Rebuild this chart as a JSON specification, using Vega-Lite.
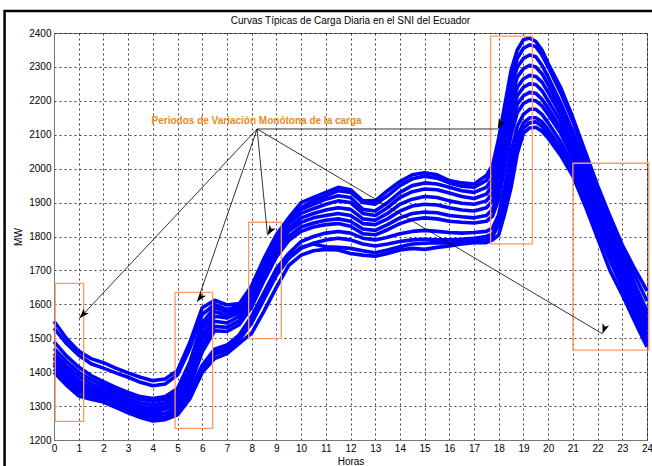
{
  "$schema": "https://vega.github.io/schema/vega-lite/v6.json",
  "width": 593,
  "height": 407,
  "autosize": {"type": "none"},
  "padding": {"left": 54, "top": 33, "right": 5, "bottom": 26},
  "background": "white",
  "title": {"text": "Curvas Típicas de Carga Diaria en el SNI del Ecuador", "fontSize": 10, "fontWeight": "normal", "font": "Liberation Sans", "color": "black", "frame": "group", "baseline": "bottom", "offset": 0, "dy": 26},
  "config": {
    "view": {"stroke": "#777777", "strokeWidth": 1},
    "axis": {"labelFont": "Liberation Sans", "labelFontSize": 10, "labelColor": "black", "titleFont": "Liberation Sans", "titleFontSize": 10, "titleFontWeight": "normal", "titleColor": "black", "domainColor": "#777777", "ticks": false, "grid": true, "gridColor": "#000000", "gridOpacity": 0.75, "gridDash": [2, 3], "gridWidth": 1, "labelOverlap": false, "format": "d"}
  },
  "datasets": {
    "curves": [
      {"h":0,"c1":1550,"c2":1530,"c3":1490,"c4":1470,"c5":1455,"c6":1440,"c7":1430,"c8":1420,"c9":1445,"c10":1425,"c11":1410,"c12":1400},
      {"h":0.5,"c1":1500,"c2":1485,"c3":1448,"c4":1432,"c5":1418,"c6":1405,"c7":1395,"c8":1384,"c9":1405,"c10":1388,"c11":1372,"c12":1362},
      {"h":1,"c1":1462,"c2":1450,"c3":1415,"c4":1400,"c5":1388,"c6":1375,"c7":1364,"c8":1352,"c9":1372,"c10":1355,"c11":1342,"c12":1330},
      {"h":1.5,"c1":1440,"c2":1425,"c3":1390,"c4":1378,"c5":1366,"c6":1355,"c7":1344,"c8":1334,"c9":1350,"c10":1336,"c11":1328,"c12":1320},
      {"h":2,"c1":1428,"c2":1412,"c3":1372,"c4":1362,"c5":1352,"c6":1342,"c7":1332,"c8":1322,"c9":1338,"c10":1325,"c11":1318,"c12":1312},
      {"h":2.5,"c1":1412,"c2":1398,"c3":1355,"c4":1346,"c5":1336,"c6":1326,"c7":1316,"c8":1306,"c9":1322,"c10":1310,"c11":1302,"c12":1296},
      {"h":3,"c1":1398,"c2":1385,"c3":1340,"c4":1332,"c5":1322,"c6":1312,"c7":1302,"c8":1292,"c9":1308,"c10":1296,"c11":1288,"c12":1280},
      {"h":3.5,"c1":1385,"c2":1370,"c3":1328,"c4":1320,"c5":1310,"c6":1300,"c7":1290,"c8":1280,"c9":1298,"c10":1284,"c11":1274,"c12":1266},
      {"h":4,"c1":1375,"c2":1360,"c3":1322,"c4":1314,"c5":1304,"c6":1294,"c7":1284,"c8":1272,"c9":1292,"c10":1278,"c11":1266,"c12":1256},
      {"h":4.5,"c1":1380,"c2":1365,"c3":1328,"c4":1320,"c5":1310,"c6":1300,"c7":1290,"c8":1278,"c9":1294,"c10":1278,"c11":1268,"c12":1260},
      {"h":5,"c1":1405,"c2":1392,"c3":1352,"c4":1342,"c5":1330,"c6":1318,"c7":1308,"c8":1298,"c9":1304,"c10":1288,"c11":1280,"c12":1274},
      {"h":5.5,"c1":1488,"c2":1470,"c3":1430,"c4":1415,"c5":1400,"c6":1385,"c7":1370,"c8":1360,"c9":1345,"c10":1330,"c11":1335,"c12":1322},
      {"h":6,"c1":1590,"c2":1570,"c3":1545,"c4":1530,"c5":1510,"c6":1495,"c7":1475,"c8":1460,"c9":1420,"c10":1400,"c11":1415,"c12":1400},
      {"h":6.5,"c1":1612,"c2":1600,"c3":1590,"c4":1578,"c5":1565,"c6":1550,"c7":1535,"c8":1522,"c9":1468,"c10":1452,"c11":1460,"c12":1440},
      {"h":7,"c1":1598,"c2":1585,"c3":1578,"c4":1568,"c5":1560,"c6":1545,"c7":1532,"c8":1520,"c9":1480,"c10":1465,"c11":1470,"c12":1455},
      {"h":7.5,"c1":1602,"c2":1595,"c3":1590,"c4":1582,"c5":1575,"c6":1565,"c7":1552,"c8":1540,"c9":1510,"c10":1495,"c11":1500,"c12":1485},
      {"h":8,"c1":1655,"c2":1645,"c3":1650,"c4":1640,"c5":1630,"c6":1620,"c7":1605,"c8":1592,"c9":1565,"c10":1545,"c11":1550,"c12":1515},
      {"h":8.5,"c1":1735,"c2":1725,"c3":1730,"c4":1720,"c5":1710,"c6":1700,"c7":1685,"c8":1670,"c9":1635,"c10":1615,"c11":1625,"c12":1580},
      {"h":9,"c1":1805,"c2":1795,"c3":1800,"c4":1790,"c5":1780,"c6":1770,"c7":1755,"c8":1740,"c9":1705,"c10":1685,"c11":1695,"c12":1650},
      {"h":9.5,"c1":1855,"c2":1845,"c3":1850,"c4":1838,"c5":1825,"c6":1815,"c7":1800,"c8":1788,"c9":1750,"c10":1735,"c11":1740,"c12":1715},
      {"h":10,"c1":1900,"c2":1885,"c3":1880,"c4":1868,"c5":1855,"c6":1842,"c7":1828,"c8":1815,"c9":1785,"c10":1765,"c11":1768,"c12":1745},
      {"h":10.5,"c1":1915,"c2":1905,"c3":1895,"c4":1882,"c5":1868,"c6":1855,"c7":1840,"c8":1828,"c9":1800,"c10":1780,"c11":1778,"c12":1758},
      {"h":11,"c1":1930,"c2":1920,"c3":1910,"c4":1895,"c5":1878,"c6":1862,"c7":1848,"c8":1835,"c9":1810,"c10":1790,"c11":1770,"c12":1762},
      {"h":11.5,"c1":1945,"c2":1935,"c3":1920,"c4":1905,"c5":1885,"c6":1868,"c7":1852,"c8":1838,"c9":1815,"c10":1795,"c11":1768,"c12":1760},
      {"h":12,"c1":1938,"c2":1930,"c3":1915,"c4":1900,"c5":1880,"c6":1862,"c7":1845,"c8":1830,"c9":1810,"c10":1790,"c11":1765,"c12":1750},
      {"h":12.5,"c1":1905,"c2":1900,"c3":1880,"c4":1868,"c5":1852,"c6":1838,"c7":1822,"c8":1808,"c9":1795,"c10":1778,"c11":1758,"c12":1745},
      {"h":13,"c1":1905,"c2":1895,"c3":1875,"c4":1862,"c5":1848,"c6":1835,"c7":1818,"c8":1805,"c9":1790,"c10":1772,"c11":1752,"c12":1742},
      {"h":13.5,"c1":1935,"c2":1920,"c3":1900,"c4":1885,"c5":1868,"c6":1852,"c7":1835,"c8":1820,"c9":1798,"c10":1778,"c11":1760,"c12":1750},
      {"h":14,"c1":1962,"c2":1950,"c3":1930,"c4":1915,"c5":1895,"c6":1875,"c7":1855,"c8":1838,"c9":1808,"c10":1785,"c11":1770,"c12":1760},
      {"h":14.5,"c1":1982,"c2":1970,"c3":1950,"c4":1932,"c5":1910,"c6":1890,"c7":1868,"c8":1850,"c9":1815,"c10":1790,"c11":1778,"c12":1765},
      {"h":15,"c1":1988,"c2":1978,"c3":1958,"c4":1940,"c5":1918,"c6":1895,"c7":1872,"c8":1855,"c9":1818,"c10":1792,"c11":1780,"c12":1762},
      {"h":15.5,"c1":1982,"c2":1972,"c3":1955,"c4":1938,"c5":1915,"c6":1893,"c7":1870,"c8":1852,"c9":1815,"c10":1790,"c11":1782,"c12":1768},
      {"h":16,"c1":1965,"c2":1958,"c3":1945,"c4":1928,"c5":1905,"c6":1885,"c7":1862,"c8":1845,"c9":1812,"c10":1790,"c11":1780,"c12":1772},
      {"h":16.5,"c1":1958,"c2":1948,"c3":1935,"c4":1918,"c5":1898,"c6":1878,"c7":1858,"c8":1842,"c9":1810,"c10":1792,"c11":1785,"c12":1778},
      {"h":17,"c1":1955,"c2":1945,"c3":1930,"c4":1912,"c5":1895,"c6":1875,"c7":1855,"c8":1840,"c9":1812,"c10":1795,"c11":1788,"c12":1782},
      {"h":17.5,"c1":1980,"c2":1965,"c3":1945,"c4":1925,"c5":1905,"c6":1885,"c7":1862,"c8":1845,"c9":1815,"c10":1800,"c11":1790,"c12":1782},
      {"h":17.75,"c1":2010,"c2":1995,"c3":1970,"c4":1950,"c5":1928,"c6":1905,"c7":1880,"c8":1860,"c9":1825,"c10":1808,"c11":1800,"c12":1790},
      {"h":18,"c1":2090,"c2":2070,"c3":2040,"c4":2010,"c5":1985,"c6":1960,"c7":1935,"c8":1910,"c9":1865,"c10":1845,"c11":1835,"c12":1805},
      {"h":18.25,"c1":2190,"c2":2170,"c3":2140,"c4":2110,"c5":2080,"c6":2055,"c7":2030,"c8":2005,"c9":1950,"c10":1925,"c11":1900,"c12":1870},
      {"h":18.5,"c1":2290,"c2":2265,"c3":2240,"c4":2205,"c5":2175,"c6":2150,"c7":2125,"c8":2100,"c9":2050,"c10":2020,"c11":1985,"c12":1945},
      {"h":18.75,"c1":2350,"c2":2325,"c3":2300,"c4":2270,"c5":2240,"c6":2215,"c7":2190,"c8":2165,"c9":2125,"c10":2095,"c11":2070,"c12":2045},
      {"h":19,"c1":2380,"c2":2355,"c3":2325,"c4":2295,"c5":2265,"c6":2240,"c7":2215,"c8":2192,"c9":2160,"c10":2135,"c11":2120,"c12":2105},
      {"h":19.25,"c1":2385,"c2":2365,"c3":2335,"c4":2305,"c5":2275,"c6":2250,"c7":2225,"c8":2202,"c9":2175,"c10":2150,"c11":2135,"c12":2120},
      {"h":19.5,"c1":2375,"c2":2360,"c3":2330,"c4":2300,"c5":2272,"c6":2248,"c7":2222,"c8":2200,"c9":2175,"c10":2150,"c11":2138,"c12":2122},
      {"h":19.75,"c1":2350,"c2":2335,"c3":2305,"c4":2280,"c5":2255,"c6":2230,"c7":2205,"c8":2185,"c9":2160,"c10":2138,"c11":2125,"c12":2110},
      {"h":20,"c1":2310,"c2":2300,"c3":2270,"c4":2248,"c5":2225,"c6":2200,"c7":2178,"c8":2160,"c9":2135,"c10":2115,"c11":2102,"c12":2090},
      {"h":20.5,"c1":2240,"c2":2225,"c3":2195,"c4":2175,"c5":2160,"c6":2140,"c7":2120,"c8":2105,"c9":2080,"c10":2062,"c11":2050,"c12":2040},
      {"h":21,"c1":2150,"c2":2140,"c3":2110,"c4":2090,"c5":2075,"c6":2060,"c7":2045,"c8":2030,"c9":2010,"c10":1995,"c11":1985,"c12":1978},
      {"h":21.5,"c1":2050,"c2":2040,"c3":2015,"c4":2000,"c5":1985,"c6":1970,"c7":1960,"c8":1948,"c9":1930,"c10":1915,"c11":1905,"c12":1890},
      {"h":22,"c1":1950,"c2":1940,"c3":1920,"c4":1905,"c5":1890,"c6":1880,"c7":1870,"c8":1860,"c9":1845,"c10":1830,"c11":1818,"c12":1795},
      {"h":22.5,"c1":1860,"c2":1850,"c3":1830,"c4":1815,"c5":1800,"c6":1790,"c7":1780,"c8":1770,"c9":1755,"c10":1742,"c11":1730,"c12":1700},
      {"h":23,"c1":1775,"c2":1760,"c3":1745,"c4":1730,"c5":1715,"c6":1705,"c7":1695,"c8":1688,"c9":1672,"c10":1660,"c11":1648,"c12":1628},
      {"h":23.5,"c1":1705,"c2":1685,"c3":1660,"c4":1650,"c5":1635,"c6":1625,"c7":1615,"c8":1605,"c9":1590,"c10":1578,"c11":1565,"c12":1550},
      {"h":24,"c1":1640,"c2":1610,"c3":1580,"c4":1570,"c5":1555,"c6":1545,"c7":1535,"c8":1525,"c9":1510,"c10":1498,"c11":1485,"c12":1474}
    ],
    "rects": [
      {"x": 0.05, "x2": 1.2, "y": 1662, "y2": 1255},
      {"x": 4.9, "x2": 6.42, "y": 1635, "y2": 1234},
      {"x": 7.88, "x2": 9.2, "y": 1842, "y2": 1499},
      {"x": 17.67, "x2": 19.36, "y": 2391, "y2": 1778},
      {"x": 21.0, "x2": 24.07, "y": 2016, "y2": 1465}
    ],
    "arrows": [
      {"a": "1", "x0": 8.22, "y0": 2117, "x1": 1.03, "y1": 1559},
      {"a": "2", "x0": 8.22, "y0": 2117, "x1": 5.8, "y1": 1608},
      {"a": "3", "x0": 8.22, "y0": 2117, "x1": 8.64, "y1": 1804},
      {"a": "4", "x0": 8.22, "y0": 2117, "x1": 17.96, "y1": 2117},
      {"a": "5", "x0": 8.22, "y0": 2117, "x1": 22.2, "y1": 1513}
    ],
    "notes": [
      {"x": 3.95, "y": 2132, "text": "Periodos de Variación Monótona de la carga"}
    ],
    "frame": [
      {"x": -2, "x2": 27, "y": 2465, "y2": 1100}
    ]
  },
  "layer": [
    {
      "data": {"name": "curves"},
      "transform": [{"fold": ["c1","c2","c3","c4","c5","c6","c7","c8","c9","c10","c11","c12"], "as": ["curva", "mw"]}],
      "mark": {"type": "line", "color": "#0000FF", "strokeWidth": 3.6, "strokeJoin": "round"},
      "encoding": {
        "x": {"field": "h", "type": "quantitative", "scale": {"domain": [0, 24], "nice": false, "zero": false},
              "axis": {"title": "Horas", "values": [0,1,2,3,4,5,6,7,8,9,10,11,12,13,14,15,16,17,18,19,20,21,22,23,24], "labelOverlap": false, "labelPadding": 3, "titlePadding": 3, "labelFlush": false, "format": "d"}},
        "y": {"field": "mw", "type": "quantitative", "scale": {"domain": [1200, 2400], "nice": false, "zero": false},
              "axis": {"title": "MW", "values": [1200,1300,1400,1500,1600,1700,1800,1900,2000,2100,2200,2300,2400], "labelOverlap": false, "labelPadding": 3, "titlePadding": 5, "labelFlush": false, "format": "d"}},
        "detail": {"field": "curva", "type": "nominal"}
      }
    },
    {
      "data": {"name": "rects"},
      "mark": {"type": "rect", "fill": null, "stroke": "#FF9966", "strokeWidth": 1.3},
      "encoding": {
        "x": {"field": "x", "type": "quantitative", "axis": {"title": "Horas", "values": [0,1,2,3,4,5,6,7,8,9,10,11,12,13,14,15,16,17,18,19,20,21,22,23,24], "labelOverlap": false, "labelPadding": 3, "titlePadding": 3, "labelFlush": false, "format": "d"}},
        "x2": {"field": "x2"},
        "y": {"field": "y", "type": "quantitative", "axis": {"title": "MW", "values": [1200,1300,1400,1500,1600,1700,1800,1900,2000,2100,2200,2300,2400], "labelOverlap": false, "labelPadding": 3, "titlePadding": 5, "labelFlush": false, "format": "d"}},
        "y2": {"field": "y2"}
      }
    },
    {
      "data": {"name": "arrows"},
      "mark": {"type": "rule", "color": "#000000", "strokeWidth": 0.8},
      "encoding": {
        "x": {"field": "x0", "type": "quantitative", "axis": {"title": "Horas", "values": [0,1,2,3,4,5,6,7,8,9,10,11,12,13,14,15,16,17,18,19,20,21,22,23,24], "labelOverlap": false, "labelPadding": 3, "titlePadding": 3, "labelFlush": false, "format": "d"}},
        "y": {"field": "y0", "type": "quantitative", "axis": {"title": "MW", "values": [1200,1300,1400,1500,1600,1700,1800,1900,2000,2100,2200,2300,2400], "labelOverlap": false, "labelPadding": 3, "titlePadding": 5, "labelFlush": false, "format": "d"}},
        "x2": {"field": "x1"},
        "y2": {"field": "y1"}
      }
    },
    {
      "data": {"name": "arrows"},
      "mark": {"type": "point", "shape": "M0,0L-0.7,2L0,1.5L0.7,2Z", "filled": true, "color": "#000000", "opacity": 1, "size": 100},
      "encoding": {
        "x": {"field": "x1", "type": "quantitative", "axis": {"title": "Horas", "values": [0,1,2,3,4,5,6,7,8,9,10,11,12,13,14,15,16,17,18,19,20,21,22,23,24], "labelOverlap": false, "labelPadding": 3, "titlePadding": 3, "labelFlush": false, "format": "d"}},
        "y": {"field": "y1", "type": "quantitative", "axis": {"title": "MW", "values": [1200,1300,1400,1500,1600,1700,1800,1900,2000,2100,2200,2300,2400], "labelOverlap": false, "labelPadding": 3, "titlePadding": 5, "labelFlush": false, "format": "d"}},
        "angle": {"field": "a", "type": "nominal", "scale": {"domain": ["1","2","3","4","5"], "range": [223.25, 199.2, 174.4, 90, 120.6]}, "legend": null}
      }
    },
    {
      "data": {"name": "notes"},
      "mark": {"type": "text", "align": "left", "baseline": "alphabetic", "font": "Liberation Sans", "fontSize": 10, "fontWeight": "bold", "color": "#E8891C"},
      "encoding": {
        "x": {"field": "x", "type": "quantitative", "axis": {"title": "Horas", "values": [0,1,2,3,4,5,6,7,8,9,10,11,12,13,14,15,16,17,18,19,20,21,22,23,24], "labelOverlap": false, "labelPadding": 3, "titlePadding": 3, "labelFlush": false, "format": "d"}},
        "y": {"field": "y", "type": "quantitative", "axis": {"title": "MW", "values": [1200,1300,1400,1500,1600,1700,1800,1900,2000,2100,2200,2300,2400], "labelOverlap": false, "labelPadding": 3, "titlePadding": 5, "labelFlush": false, "format": "d"}},
        "text": {"field": "text"}
      }
    },
    {
      "data": {"name": "frame"},
      "mark": {"type": "rect", "fill": null, "stroke": "#000000", "strokeWidth": 2.5, "clip": false},
      "encoding": {
        "x": {"field": "x", "type": "quantitative", "axis": {"title": "Horas", "values": [0,1,2,3,4,5,6,7,8,9,10,11,12,13,14,15,16,17,18,19,20,21,22,23,24], "labelOverlap": false, "labelPadding": 3, "titlePadding": 3, "labelFlush": false, "format": "d"}},
        "x2": {"field": "x2"},
        "y": {"field": "y", "type": "quantitative", "axis": {"title": "MW", "values": [1200,1300,1400,1500,1600,1700,1800,1900,2000,2100,2200,2300,2400], "labelOverlap": false, "labelPadding": 3, "titlePadding": 5, "labelFlush": false, "format": "d"}},
        "y2": {"field": "y2"}
      }
    }
  ]
}
